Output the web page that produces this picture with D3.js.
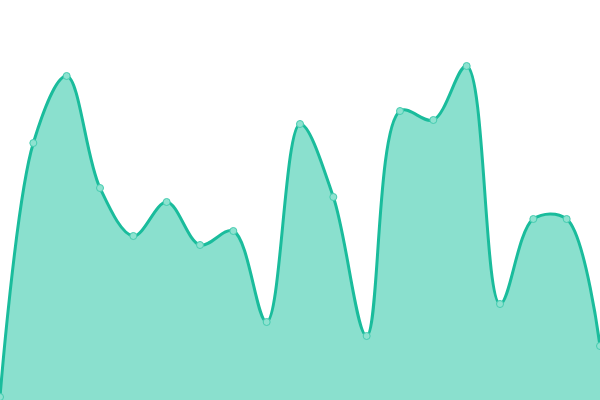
<!DOCTYPE html>
<html>
<head>
<meta charset="utf-8">
<script src="https://cdn.jsdelivr.net/npm/d3@7"></script>
<style>
  html, body { margin: 0; padding: 0; background: #fff; }
  svg { display: block; }
</style>
</head>
<body>
<div id="chart"></div>
<script>
const FRAME_WIDTH = 600;
const FRAME_HEIGHT = 400;

// values (0 = bottom edge, 400 = top edge)
const CATEGORIES = d3.range(19).map((i) => "P" + (i + 1));
const VALUES = [3, 257, 324, 212, 164, 198, 155, 169, 78, 276, 203, 64, 289, 280, 334, 96, 181, 181, 54];

const LINE_COLOR = "#1abc9c";
const FILL_COLOR = "#8ae0ce";

const data = CATEGORIES.map((c, i) => ({ cat: c, value: VALUES[i] }));

const FRAME = d3.select("#chart")
  .append("svg")
  .attr("width", FRAME_WIDTH)
  .attr("height", FRAME_HEIGHT);

const X_SCALE = d3.scalePoint()
  .domain(CATEGORIES)
  .range([0, FRAME_WIDTH]);

const Y_SCALE = d3.scaleLinear()
  .domain([0, 400])
  .range([FRAME_HEIGHT, 0]);

const curve = d3.curveCatmullRom.alpha(0.5);

const area = d3.area()
  .x((d) => X_SCALE(d.cat))
  .y0(Y_SCALE(0))
  .y1((d) => Y_SCALE(d.value))
  .curve(curve);

const line = d3.line()
  .x((d) => X_SCALE(d.cat))
  .y((d) => Y_SCALE(d.value))
  .curve(curve);

FRAME.append("path")
  .datum(data)
  .attr("d", area)
  .attr("fill", FILL_COLOR);

FRAME.append("path")
  .datum(data)
  .attr("d", line)
  .attr("fill", "none")
  .attr("stroke", LINE_COLOR)
  .attr("stroke-width", 3);

// small point markers
FRAME.selectAll("circle.point")
  .data(data)
  .enter()
  .append("circle")
  .attr("class", "point")
  .attr("cx", (d) => X_SCALE(d.cat))
  .attr("cy", (d) => Y_SCALE(d.value))
  .attr("r", 3.5)
  .attr("fill", "#8ee2d0")
  .attr("stroke", "#45ccb0")
  .attr("stroke-width", 1);
</script>
</body>
</html>
